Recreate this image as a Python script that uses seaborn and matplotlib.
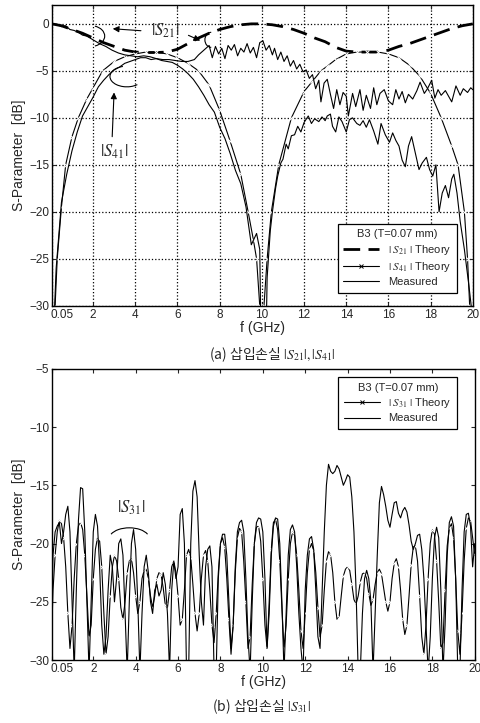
import numpy as np
import matplotlib
matplotlib.use('Agg')
import matplotlib.pyplot as plt
import matplotlib.transforms as mtransforms
from matplotlib.lines import Line2D
from matplotlib.patches import Arc
import seaborn as sns

# ---------------- data: top panel (insertion loss) ----------------
s21_th_f = [0.05, 0.5, 1, 1.5, 2, 2.5, 3, 3.5, 4, 4.5, 5, 5.5, 6, 6.5, 7, 7.5, 8, 8.5, 9, 9.5, 10,
            10.5, 11, 11.5, 12, 12.5, 13, 13.5, 14, 14.5, 15, 15.5, 16, 16.5, 17, 17.5, 18, 18.5, 19, 19.5, 20]
s21_th = [0, -0.2, -0.6, -1.0, -1.5, -2.0, -2.4, -2.8, -3.0, -3.05, -3.05, -3.0, -2.7, -2.1, -1.5, -1.0, -0.6, -0.3, -0.1, 0, 0,
          -0.1, -0.3, -0.6, -1.0, -1.5, -1.9, -2.5, -2.9, -3.0, -3.0, -3.0, -2.8, -2.4, -2.1, -1.7, -1.3, -0.9, -0.5, -0.2, 0]

s41_th_f = [0.1, 0.2, 0.3, 0.5, 0.7, 1.0, 1.3, 1.7, 2.0, 2.45, 3.0, 3.5, 4.0, 4.5, 5.0, 5.5, 6.0, 6.5, 7.0, 7.5,
            8.0, 8.5, 9.0, 9.35, 9.6, 9.75, 9.9, 10.0,
            10.1, 10.25, 10.45, 10.8, 11.4, 12.0, 12.4, 12.8, 13.1, 13.5, 14.0, 14.5, 15.0, 15.5, 16.0, 16.5,
            17.0, 17.5, 18.0, 18.5, 19.0, 19.3, 19.6, 19.75, 19.85, 20.0]
s41_th = [-40, -30, -25, -19.5, -15, -12, -10, -8, -6.8, -5.0, -4.0, -3.5, -3.2, -3.0, -3.0, -3.2, -3.6, -4.2, -5.0, -6.5,
          -9.2, -12.5, -16, -20, -23, -25, -30, -40,
          -30, -25, -20, -15, -10, -7.2, -6.1, -5.0, -4.5, -3.8, -3.2, -3.0, -3.0, -3.0, -3.2, -3.6,
          -4.4, -5.6, -7.4, -10, -13, -15, -20, -25, -30, -40]

s21_me_f = [0.05, 0.3, 0.5, 0.7, 0.9, 1.1, 1.3, 1.5, 1.7, 2.0, 2.3, 2.6, 2.9, 3.2, 3.5, 3.8, 4.1, 4.4, 4.7, 5.0,
            5.3, 5.6, 5.9, 6.2, 6.5, 6.8, 7.0, 7.2, 7.4, 7.5, 7.65, 7.8, 7.95, 8.1, 8.25, 8.4, 8.55, 8.7, 8.85,
            9.0, 9.15, 9.3, 9.45, 9.6, 9.75, 9.9, 10.05, 10.2, 10.35, 10.5, 10.6, 10.75, 10.9, 11.05, 11.2, 11.35,
            11.5, 11.65, 11.8, 11.95, 12.1, 12.25, 12.4, 12.55, 12.7, 12.8, 12.95, 13.1, 13.25, 13.4, 13.55, 13.7,
            13.85, 14.0, 14.1, 14.3, 14.45, 14.65, 14.8, 14.95, 15.15, 15.3, 15.45, 15.6, 15.8, 16.0, 16.2, 16.35,
            16.5, 16.65, 16.8, 16.95, 17.15, 17.35, 17.5, 17.7, 17.85, 18.05, 18.2, 18.35, 18.5, 18.7, 19.0, 19.2,
            19.4, 19.55, 19.75, 19.9, 20.0]
s21_me = [0.0, -0.05, -0.3, -0.2, -0.6, -0.7, -0.9, -1.2, -1.3, -1.7, -2.1, -2.4, -2.8, -3.1, -3.3, -3.4, -3.5, -3.4, -3.5, -3.7,
          -3.8, -3.8, -3.9, -4.0, -4.0, -3.8, -3.3, -2.9, -2.5, -2.3, -3.6, -2.4, -3.2, -2.6, -3.7, -2.3, -2.8, -2.2, -3.4,
          -2.6, -3.0, -2.1, -3.1, -2.5, -3.6, -2.0, -1.8, -2.8, -2.3, -3.3, -2.6, -3.8, -3.0, -4.0, -3.4, -4.5,
          -3.9, -4.8, -4.3, -5.1, -4.9, -5.8, -5.4, -6.9, -6.0, -8.3, -6.3, -5.9, -7.5, -9.0, -7.0, -8.6,
          -7.3, -7.7, -9.8, -7.4, -8.8, -7.0, -9.2, -7.6, -9.0, -6.8, -8.6, -7.4, -7.0, -8.2, -8.6, -7.0,
          -8.0, -7.2, -8.4, -7.5, -8.0, -7.1, -6.2, -7.4, -6.9, -6.0, -7.9, -7.0, -7.6, -7.1, -8.3, -6.6,
          -7.6, -6.9, -7.3, -6.8, -7.0]

s41_me_f = [0.0, 0.25, 0.5, 0.75, 1.0, 1.25, 1.5, 1.75, 2.0, 2.25, 2.5, 2.75, 3.0, 3.25, 3.5, 3.75, 4.0, 4.25, 4.5, 4.75,
            5.0, 5.25, 5.5, 5.75, 6.0, 6.25, 6.5, 6.75, 7.0, 7.25, 7.5, 7.75, 8.0, 8.25, 8.5, 8.75, 9.0, 9.25, 9.5,
            9.75, 9.9, 10.0, 10.15, 10.25, 10.4, 10.5, 10.65, 10.75, 10.9, 11.0, 11.15, 11.25, 11.4, 11.55, 11.7, 11.85,
            12.0, 12.2, 12.35, 12.5, 12.7, 12.85, 13.0, 13.1, 13.25, 13.35, 13.5, 13.65, 13.8, 14.0, 14.15, 14.3,
            14.5, 14.65, 14.8, 14.95, 15.1, 15.3, 15.5, 15.65, 15.85, 16.05, 16.2, 16.35, 16.5, 16.65, 16.8, 16.95,
            17.1, 17.25, 17.45, 17.6, 17.8, 17.95, 18.1, 18.25, 18.4, 18.55, 18.7, 18.85, 19.0, 19.1, 19.25, 19.4,
            19.6, 19.8, 19.95]
s41_me = [-40, -26, -19, -16, -13.5, -11.5, -9.8, -8.8, -7.8, -6.7, -6.0, -5.4, -4.9, -4.6, -4.2, -4.0, -3.8, -3.6, -3.6, -3.8,
          -3.7, -3.9, -4.0, -4.1, -4.4, -4.8, -5.3, -5.9, -6.7, -7.6, -8.6, -9.4, -11.0, -12.2, -13.8, -15.6, -17.0, -19.5, -23.5,
          -22.3, -24.0, -40, -40, -27, -22, -20, -17.5, -16.2, -14.8, -14.4, -12.8, -13.3, -11.9, -11.8, -10.9, -11.5,
          -10.5, -9.8, -10.6, -10.1, -10.4, -9.9, -10.3, -9.8, -9.6, -10.9, -11.5, -9.9, -10.4, -11.5, -10.2, -10.0,
          -10.6, -10.8, -10.3, -11.0, -10.2, -11.4, -12.8, -10.6, -11.8, -12.6, -11.6, -12.4, -13.0, -14.5, -15.2, -13.0,
          -12.0, -13.5, -15.5, -14.8, -14.2, -15.5, -16.2, -15.0, -20.0, -18.0, -17.2, -18.5, -16.5, -16.0, -18.0, -21.0,
          -24.0, -27.6, -30.5]

# ---------------- data: bottom panel (|S31|) ----------------
freq = np.round(np.arange(0, 20.01, 0.1), 2)
freq[0] = 0.05
s31_me = [
    -25, -21, -19, -18.5, -18.2, -20, -19, -17.5, -16.8, -19,
    -25, -31, -24, -18, -15.2, -15.3, -19, -25, -31, -25,
    -19, -17.5, -18.5, -22, -27, -29.5, -28, -24, -21, -22,
    -25, -23, -20, -19.6, -21, -26, -31, -25, -20, -18.8,
    -20.5, -25, -31, -26, -22, -21, -22.5, -25, -26, -24,
    -23.5, -24.5, -24, -22.5, -23.5, -26, -31, -24, -21.5, -23,
    -22, -17.5, -17, -20, -31, -31, -20, -15.5, -14.6, -16,
    -21, -25, -27, -22, -20.5, -20.2, -22, -31, -31, -23,
    -20, -19.2, -19.2, -21, -25, -29, -27, -22, -19, -18.2,
    -18, -19, -23, -28, -31, -25, -20, -18.2, -17.8, -17.9,
    -19, -23, -29, -26, -21, -18.5, -17.8, -17.9, -20, -25,
    -31, -26, -21, -18.8, -18.4, -19, -22, -26, -29, -31,
    -24, -21, -19.6, -19.4, -20.5, -24, -28, -29, -24, -19,
    -15, -13.2, -13.8, -14.0, -13.8, -13.3, -13.6, -14.3, -15.0, -14.6,
    -14.1, -14.3, -16, -19, -24, -31, -31, -26, -23, -22.3,
    -23, -25, -31, -26, -21, -16.5, -15.1, -15.8, -16.8, -18,
    -18.6, -17.5, -16.5, -16.4, -17.4, -17.8, -17.2, -16.9, -17.3, -18.4,
    -19.8, -20.5, -20, -19.3, -19.2, -20.5, -23, -27, -31, -28,
    -23, -19.5, -18.6, -19.5, -24, -31, -27, -21, -18.2, -17.7,
    -18.5, -23, -31, -31, -24, -19, -17.5, -17.4, -18.5, -22,
    -20]
s31_th = [
    -27, -24, -21, -19, -18, -18.3, -19.5, -22, -26, -29,
    -27, -23, -20, -18.5, -18.2, -18.8, -21, -24.5, -28, -27,
    -23, -20.5, -19.5, -19.8, -22, -26, -29.5, -28, -24.5, -22,
    -21, -21.5, -23, -25.5, -26.5, -25, -22.5, -21.5, -21.3, -22.5,
    -24.5, -26, -25, -23, -22.3, -22.2, -23, -24.5, -25.5, -24.5,
    -23, -22.5, -22.7, -23.8, -25.3, -25.5, -24, -22, -21.5, -22.5,
    -24.5, -27, -26.5, -24, -21, -20.5, -21.2, -23.5, -26, -27.5,
    -26, -23, -21, -20.6, -21.5, -24, -27, -28.5, -26, -22.5,
    -20, -19.5, -20.3, -23, -26.5, -29.5, -27, -22.5, -19.5, -18.7,
    -19, -21.5, -25, -29, -28, -23.5, -20, -18.6, -18.5, -19.8,
    -23, -27, -29, -25, -20.5, -18.2, -17.9, -18.8, -21.5, -25.5,
    -29, -27, -23, -20, -19, -19.3, -21, -24, -27.5, -29,
    -26, -22.5, -20.5, -20, -20.6, -22.5, -25.5, -28, -27, -24,
    -21.5, -20.7, -21, -22.5, -25, -26.5, -26.3, -24.5, -22.8, -22.2,
    -22, -22.3, -23.5, -24.8, -25.2, -24.5, -23.3, -22.6, -22.5, -23,
    -24.3, -25.3, -24.8, -23.5, -22.5, -22.2, -22.6, -23.8, -25, -25.8,
    -25, -23, -21.7, -21.3, -22, -24, -26.5, -27.8, -27, -24.5,
    -21.8, -20.3, -20.2, -21.5, -24.5, -28, -29.5, -27, -23, -20,
    -18.8, -19.2, -21.5, -25, -29, -28.5, -24, -20.2, -18.7, -18.3,
    -19.5, -23, -27.5, -29.5, -26, -21.5, -18.7, -17.8, -18, -19.5,
    -21]

xticks = [0.05, 2, 4, 6, 8, 10, 12, 14, 16, 18, 20]
xtick_labels = ['0.05', '2', '4', '6', '8', '10', '12', '14', '16', '18', '20']

sns.set_style('ticks')
plt.rcParams['font.family'] = ['Liberation Sans', 'DejaVu Sans']
plt.rcParams['mathtext.fontset'] = 'stix'
plt.rcParams['xtick.direction'] = 'in'
plt.rcParams['ytick.direction'] = 'in'

fig = plt.figure(figsize=(4.81, 7.23), dpi=100)
ax1 = fig.add_axes([0.108, 0.577, 0.875, 0.416])
ax2 = fig.add_axes([0.108, 0.087, 0.879, 0.403])

# top panel
sns.lineplot(x=s21_th_f, y=s21_th, ax=ax1, color='black', lw=2.0, linestyle=(0, (6, 3)),
             sort=False, estimator=None)
sns.lineplot(x=s41_th_f, y=s41_th, ax=ax1, color='black', lw=0.8, marker='x', markersize=3,
             markeredgewidth=0.7, sort=False, estimator=None)
sns.lineplot(x=s21_me_f, y=s21_me, ax=ax1, color='black', lw=0.8, sort=False, estimator=None)
sns.lineplot(x=s41_me_f, y=s41_me, ax=ax1, color='black', lw=0.8, sort=False, estimator=None)

ax1.set_xlim(0.05, 20)
ax1.set_ylim(-30, 2)
ax1.set_yticks([0, -5, -10, -15, -20, -25, -30])
ax1.grid(True, linestyle=':', color='black', linewidth=0.9)

ax1.text(5.4, -0.75, r'$|S_{21}|$', fontsize=12, ha='center', va='center')
ax1.annotate('', xy=(2.8, -0.5), xytext=(4.4, -0.75),
             arrowprops=dict(arrowstyle='-|>', color='black', lw=0.8, mutation_scale=9))
ax1.annotate('', xy=(7.2, -1.9), xytext=(6.4, -1.1),
             arrowprops=dict(arrowstyle='-|>', color='black', lw=0.8, mutation_scale=9))
ax1.text(3.0, -13.6, r'$|S_{41}|$', fontsize=12, ha='center', va='center')
ax1.annotate('', xy=(3.0, -7.0), xytext=(2.9, -12.3),
             arrowprops=dict(arrowstyle='-|>', color='black', lw=0.8, mutation_scale=9))
ax1.add_patch(Arc((1.9, -1.3), 1.3, 2.2, theta1=-80, theta2=80, color='black', lw=0.8))
ax1.add_patch(Arc((3.6, -5.6), 1.6, 2.2, theta1=100, theta2=300, color='black', lw=0.8))
ax1.add_patch(Arc((7.6, -1.7), 0.6, 1.6, theta1=90, theta2=270, color='black', lw=0.8))

leg1_handles = [
    Line2D([], [], color='black', lw=2.0, linestyle=(0, (6, 3))),
    Line2D([], [], color='black', lw=0.8, marker='x', markersize=3, markeredgewidth=0.7),
    Line2D([], [], color='black', lw=0.8),
]
leg1 = ax1.legend(leg1_handles, [r'$|\ S_{21}\ |$ Theory', r'$|\ S_{41}\ |$ Theory', 'Measured'],
                  title='B3 (T=0.07 mm)', loc='lower right', bbox_to_anchor=(0.975, 0.025),
                  fontsize=8, title_fontsize=8, frameon=True, fancybox=False, framealpha=1,
                  edgecolor='black', handlelength=3.2, borderpad=0.5, labelspacing=0.3)
leg1.get_frame().set_linewidth(0.9)

# bottom panel
sns.lineplot(x=freq, y=s31_th, ax=ax2, color='black', lw=0.8, marker='x', markersize=3,
             markeredgewidth=0.7, markevery=2, sort=False, estimator=None)
sns.lineplot(x=freq, y=s31_me, ax=ax2, color='black', lw=0.8, sort=False, estimator=None)

ax2.set_xlim(0.05, 20)
ax2.set_ylim(-30, -5)
ax2.set_yticks([-5, -10, -15, -20, -25, -30])
ax2.text(3.8, -16.9, r'$|S_{31}|$', fontsize=12, ha='center', va='center')
ax2.add_patch(Arc((3.7, -19.6), 1.9, 1.9, theta1=25, theta2=155, color='black', lw=0.8))

leg2_handles = [
    Line2D([], [], color='black', lw=0.8, marker='x', markersize=3, markeredgewidth=0.7),
    Line2D([], [], color='black', lw=0.8),
]
leg2 = ax2.legend(leg2_handles, [r'$|\ S_{31}\ |$ Theory', 'Measured'],
                  title='B3 (T=0.07 mm)', loc='upper right', bbox_to_anchor=(0.972, 0.99),
                  fontsize=8, title_fontsize=8, frameon=True, fancybox=False, framealpha=1,
                  edgecolor='black', handlelength=3.2, borderpad=0.5, labelspacing=0.3)
leg2.get_frame().set_linewidth(0.9)

shift = mtransforms.ScaledTranslation(7 / 72, 0, fig.dpi_scale_trans)
for ax in (ax1, ax2):
    ax.set_xticks(xticks)
    ax.set_xticklabels(xtick_labels)
    ax.tick_params(axis='both', labelsize=8.5, length=3, width=0.8, top=True, right=True, pad=2)
    ax.set_xlabel('f (GHz)', fontsize=10, labelpad=0)
    ax.set_ylabel('S-Parameter  [dB]', fontsize=10, labelpad=2)
    first = ax.get_xticklabels()[0]
    first.set_transform(first.get_transform() + shift)
    for sp in ax.spines.values():
        sp.set_visible(True)
        sp.set_color('black')
        sp.set_linewidth(1.0)

cap = ['Noto Sans CJK KR', 'DejaVu Sans']
fig.text(0.566, 0.510, r'(a) 삽입손실 $|S_{21}|,|S_{41}|$', ha='center', va='center',
         fontsize=10, family=cap)
fig.text(0.543, 0.022, r'(b) 삽입손실 $|S_{31}|$', ha='center', va='center',
         fontsize=10, family=cap)

fig.savefig('out.png', dpi=100)
